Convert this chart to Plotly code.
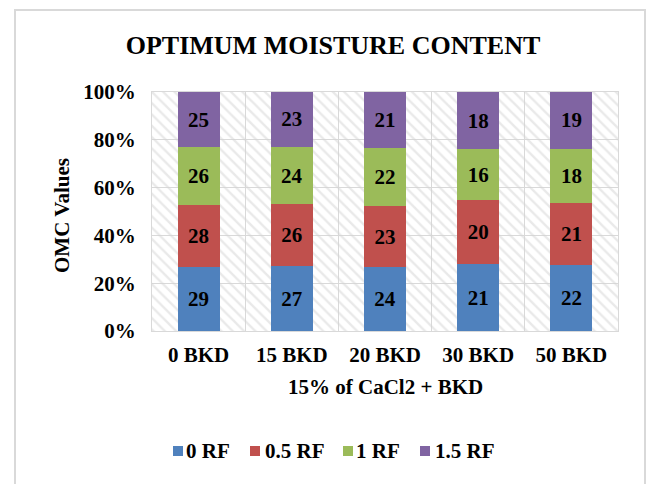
import plotly.graph_objects as go

categories = ["0 BKD", "15 BKD", "20 BKD", "30 BKD", "50 BKD"]
series_names = ["0 RF", "0.5 RF", "1 RF", "1.5 RF"]
rf_0 = [29, 27, 24, 21, 22]
rf_05 = [28, 26, 23, 20, 21]
rf_1 = [26, 24, 22, 16, 18]
rf_15 = [25, 23, 21, 18, 19]
series_values = [rf_0, rf_05, rf_1, rf_15]
colors = ["#4F81BD", "#C0504D", "#9BBB59", "#8064A2"]
y_ticks = [0, 20, 40, 60, 80, 100]
y_ticktext = ["0%", "20%", "40%", "60%", "80%", "100%"]

FONT = "Liberation Serif"
GRID = "#d9d9d9"
FS = 21

# plot area in pixels (used to place the key and the frame in paper units)
L, R, T, B = 152, 618, 92, 331
W, H = R - L, B - T


def px(xp):
    return (xp - L) / W


def py(yp):
    return (B - yp) / H


fig = go.Figure()

# hatched plot-area background, on the base x axis so it sits under the bars
fig.add_trace(go.Bar(
    x=[0.5], y=[100], width=[1], xaxis="x", yaxis="y",
    marker=dict(color="rgba(0,0,0,0)", line=dict(width=0),
                pattern=dict(shape="\\", fgcolor="#d4d4d4", bgcolor="rgba(0,0,0,0)",
                             size=8, solidity=0.3)),
    showlegend=False, hoverinfo="skip",
))

for name, vals, col in zip(series_names, series_values, colors):
    fig.add_trace(go.Bar(
        x=categories, y=vals, name=name, xaxis="x2", yaxis="y",
        marker=dict(color=col, line=dict(width=0)),
        text=[str(v) for v in vals], textposition="inside",
        insidetextanchor="middle", constraintext="none",
        textfont=dict(family=FONT, size=FS, color="black", weight="bold"),
        width=0.45, showlegend=False,
    ))

# compact key below the chart: colour square + series name
key_square_x = [173, 250, 343, 420]
key_text_x = [186, 265, 356, 435]
key_y = 451
shapes = [
    dict(type="rect", xref="paper", yref="paper",
         x0=px(15), x1=px(645), y0=py(495), y1=py(10),
         line=dict(color=GRID, width=2), fillcolor="rgba(0,0,0,0)", layer="below"),
]
annotations = [
    dict(text="<b>15% of CaCl2 + BKD</b>", xref="paper", yref="paper",
         x=px(385), y=py(387), xanchor="center", yanchor="middle",
         showarrow=False, font=dict(family=FONT, size=FS, color="black")),
    dict(text="<b>OMC Values</b>", xref="paper", yref="paper", textangle=-90,
         x=px(62), y=py(216), xanchor="center", yanchor="middle",
         showarrow=False, font=dict(family=FONT, size=FS, color="black")),
]
for name, col, sx, tx in zip(series_names, colors, key_square_x, key_text_x):
    shapes.append(dict(type="rect", xref="paper", yref="paper",
                       x0=px(sx), x1=px(sx + 10), y0=py(key_y + 5), y1=py(key_y - 5),
                       line=dict(width=0), fillcolor=col))
    annotations.append(dict(text=f"<b>{name}</b>", xref="paper", yref="paper",
                            x=px(tx), y=py(key_y), xanchor="left", yanchor="middle",
                            showarrow=False, xshift=-2,
                            font=dict(family=FONT, size=FS, color="black")))

fig.update_layout(
    width=649, height=484,
    margin=dict(l=L, r=649 - R, t=T, b=484 - B),
    paper_bgcolor="white", plot_bgcolor="white",
    barmode="stack", barnorm="percent", showlegend=False,
    title=dict(text="<b>OPTIMUM MOISTURE CONTENT</b>", x=333 / 649, xanchor="center",
               y=1 - 45 / 484, yanchor="middle", yref="container",
               font=dict(family=FONT, size=26, color="black")),
    xaxis=dict(range=[0, 1], showgrid=False, showticklabels=False, zeroline=False,
               showline=False, fixedrange=True),
    xaxis2=dict(overlaying="x", type="category", tickson="boundaries",
                showgrid=True, gridcolor=GRID, gridwidth=1,
                showline=True, linecolor=GRID, linewidth=1, mirror=True,
                ticks="", ticklabelstandoff=5,
                tickfont=dict(family=FONT, size=FS, color="black", weight="bold"),
                side="bottom"),
    yaxis=dict(range=[0, 100], tickvals=y_ticks, ticktext=y_ticktext,
               showgrid=True, gridcolor=GRID, gridwidth=1, zeroline=False,
               showline=True, linecolor=GRID, linewidth=1, mirror=True,
               ticks="", ticklabelstandoff=11,
               tickfont=dict(family=FONT, size=FS, color="black", weight="bold")),
    annotations=annotations,
    shapes=shapes,
)

fig.write_html("out.html")
